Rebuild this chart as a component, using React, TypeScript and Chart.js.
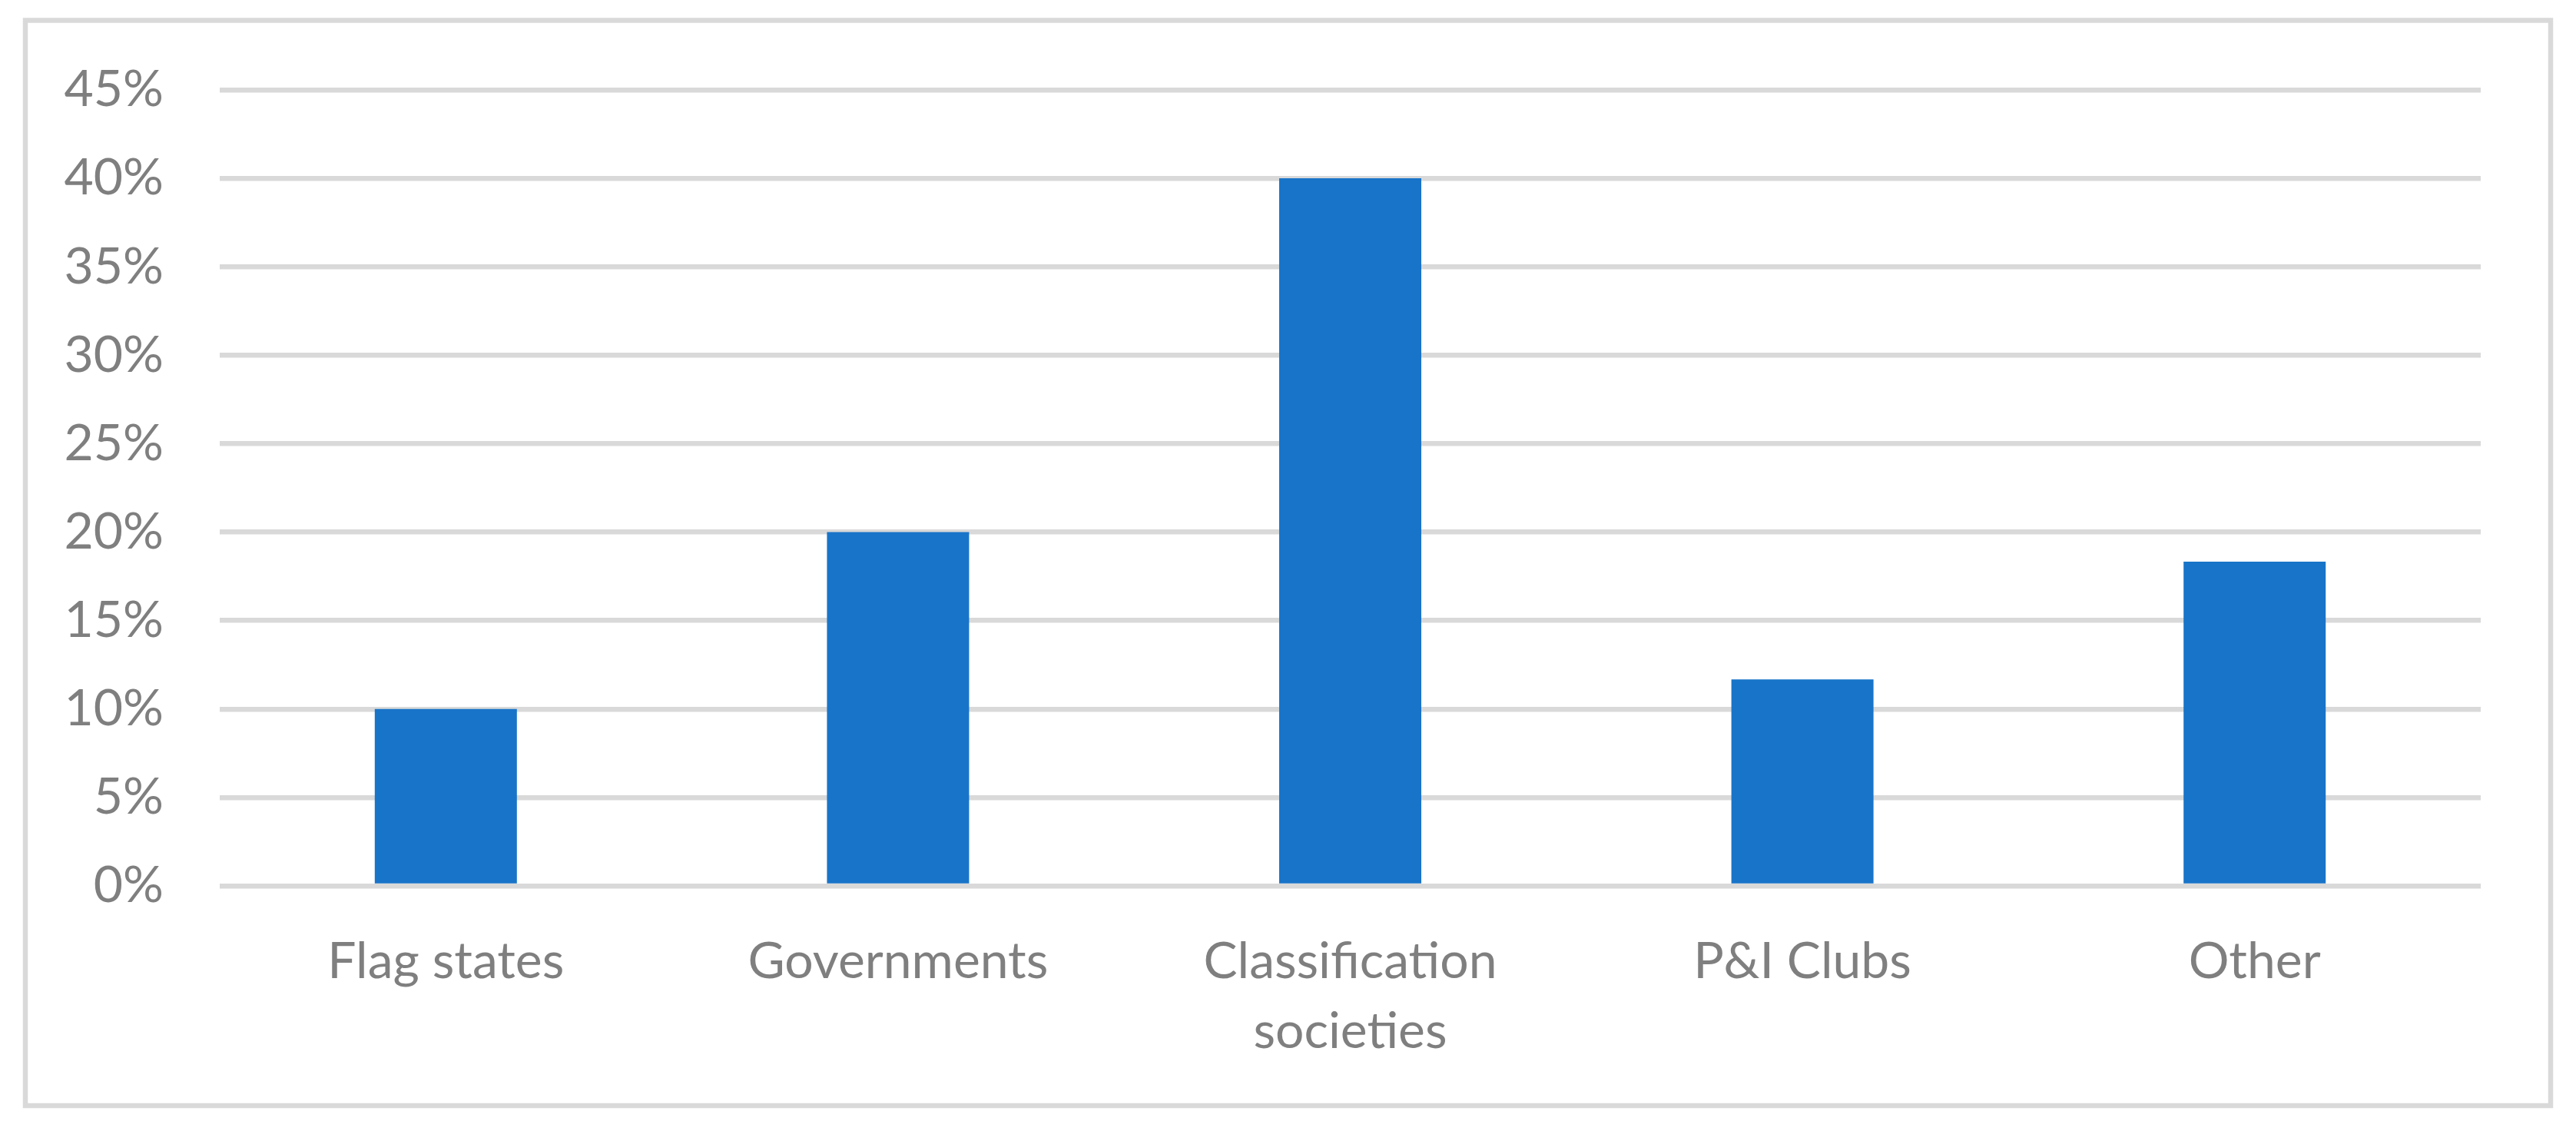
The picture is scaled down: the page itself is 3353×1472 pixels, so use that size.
import React, { useEffect, useRef } from "react";
import { Chart, registerables } from "chart.js";

Chart.register(...registerables);

const categories: (string | string[])[] = [
  "Flag states",
  "Governments",
  ["Classification", "societies"],
  "P&I Clubs",
  "Other",
];
const shares: number[] = [10, 20, 40, 11.67, 18.33];
const yMin = 0;
const yMax = 45;
const yStep = 5;

const W = 3353;
const H = 1472;

const framePlugin = {
  id: "frame",
  beforeDraw(chart: any) {
    const ctx = chart.ctx;
    ctx.save();
    ctx.fillStyle = "#ffffff";
    ctx.fillRect(0, 0, chart.width, chart.height);
    ctx.strokeStyle = "#d9d9d9";
    ctx.lineWidth = 6.5;
    ctx.strokeRect(33, 26.5, 3320 - 33, 1439 - 26.5);
    ctx.restore();
  },
};

export default function App() {
  const ref = useRef<HTMLCanvasElement | null>(null);

  useEffect(() => {
    if (!ref.current) return;
    const font = { family: "Lato, 'Open Sans', sans-serif", size: 66 };
    const chart = new Chart(ref.current, {
      type: "bar",
      data: {
        labels: categories,
        datasets: [
          {
            data: shares,
            backgroundColor: "#1874c8",
            borderWidth: 0,
            barPercentage: 0.3143,
            categoryPercentage: 1,
          },
        ],
      },
      options: {
        animation: false,
        responsive: false,
        maintainAspectRatio: false,
        devicePixelRatio: 1,
        layout: { padding: { top: 117, right: 124, left: 0, bottom: 0 } },
        plugins: {
          legend: { display: false },
          tooltip: { enabled: false },
          title: { display: false },
        },
        scales: {
          x: {
            grid: { display: false, drawTicks: false },
            border: { display: false },
            ticks: {
              font,
              color: "#7f7f7f",
              padding: 53,
              maxRotation: 0,
              autoSkip: false,
            },
            afterFit(scale: any) {
              scale.height = 319;
            },
          },
          y: {
            min: yMin,
            max: yMax,
            grid: { color: "#d9d9d9", lineWidth: 6.5, drawTicks: false },
            border: { display: false },
            ticks: {
              stepSize: yStep,
              font,
              color: "#7f7f7f",
              padding: 73,
              callback: (v: any) => `${v}%`,
            },
            afterFit(scale: any) {
              scale.width = 286;
            },
          },
        },
      } as any,
      plugins: [framePlugin],
    });
    // set x label line height
    (chart.options.scales as any).x.ticks.font = { ...font, lineHeight: 91 / 66 };
    chart.update();
    return () => chart.destroy();
  }, []);

  return (
    <div style={{ position: "fixed", left: 0, top: 0, width: W, height: H, background: "#fff" }}>
      <canvas ref={ref} width={W} height={H} style={{ width: W, height: H, display: "block" }} />
    </div>
  );
}
